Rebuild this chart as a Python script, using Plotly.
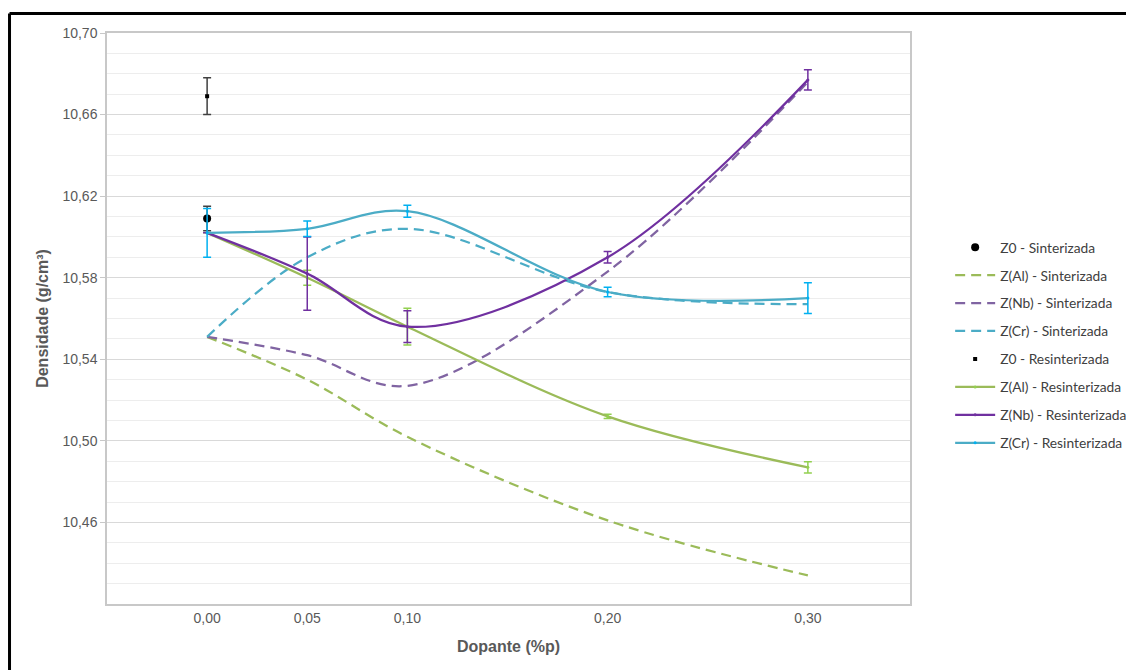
import plotly.graph_objects as go

# ---- data ----
dopante = [0.00, 0.05, 0.10, 0.20, 0.30]
tick_labels = ["0,00", "0,05", "0,10", "0,20", "0,30"]

z0_sint_x = [0.00]
z0_sint_y = [10.609]
z0_sint_err = [0.006]

z0_resint_x = [0.00]
z0_resint_y = [10.669]
z0_resint_err = [0.009]

al_sint = [10.551, 10.530, 10.502, 10.461, 10.434]
nb_sint = [10.551, 10.542, 10.527, 10.583, 10.676]
cr_sint = [10.551, 10.590, 10.604, 10.573, 10.567]

al_resint = [10.602, 10.580, 10.556, 10.512, 10.487]
al_resint_err = [0.0, 0.0037, 0.009, 0.001, 0.0028]
nb_resint = [10.602, 10.582, 10.556, 10.590, 10.677]
nb_resint_err = [0.0, 0.018, 0.0078, 0.0028, 0.005]
cr_resint = [10.602, 10.604, 10.6126, 10.573, 10.570]
cr_resint_err = [0.012, 0.0038, 0.0029, 0.0023, 0.0075]

y_ticks = [10.46, 10.50, 10.54, 10.58, 10.62, 10.66, 10.70]

# ---- styles ----
GREEN = "#9BBB59"
GREEN_ERR = "#92D050"
PURPLE = "#7030A0"
PURPLE_D = "#8064A2"
CYAN = "#4BACC6"
CYAN_ERR = "#00B0F0"
GRAY_TXT = "#595959"

fig = go.Figure()

def err(arr, color):
    return dict(type="data", array=arr, visible=True, color=color,
                thickness=1.5, width=4)

fig.add_trace(go.Scatter(
    x=z0_sint_x, y=z0_sint_y, mode="markers", name="Z0 - Sinterizada",
    marker=dict(color="black", size=8, symbol="circle"),
    error_y=err(z0_sint_err, "#404040"), legendgroup="a"))

dash_style = "10px,6px"
fig.add_trace(go.Scatter(
    x=dopante, y=al_sint, mode="lines", name="Z(Al) - Sinterizada",
    line=dict(color=GREEN, width=2.25, dash=dash_style, shape="spline", smoothing=1.0),
    legendgroup="b"))
fig.add_trace(go.Scatter(
    x=dopante, y=nb_sint, mode="lines", name="Z(Nb) - Sinterizada",
    line=dict(color=PURPLE_D, width=2.25, dash=dash_style, shape="spline", smoothing=1.0),
    legendgroup="c"))
fig.add_trace(go.Scatter(
    x=dopante, y=cr_sint, mode="lines", name="Z(Cr) - Sinterizada",
    line=dict(color=CYAN, width=2.25, dash=dash_style, shape="spline", smoothing=1.0),
    legendgroup="d"))

fig.add_trace(go.Scatter(
    x=z0_resint_x, y=z0_resint_y, mode="markers", name="Z0 - Resinterizada",
    marker=dict(color="black", size=4, symbol="square"),
    error_y=err(z0_resint_err, "#404040"), legendgroup="e"))

fig.add_trace(go.Scatter(
    x=dopante, y=al_resint, mode="lines+markers", name="Z(Al) - Resinterizada",
    line=dict(color=GREEN, width=2.25, shape="spline", smoothing=1.0),
    marker=dict(color=GREEN_ERR, size=3),
    error_y=err(al_resint_err, GREEN_ERR), legendgroup="f"))
fig.add_trace(go.Scatter(
    x=dopante, y=nb_resint, mode="lines+markers", name="Z(Nb) - Resinterizada",
    line=dict(color=PURPLE, width=2.25, shape="spline", smoothing=1.0),
    marker=dict(color=PURPLE, size=3),
    error_y=err(nb_resint_err, PURPLE), legendgroup="g"))
fig.add_trace(go.Scatter(
    x=dopante, y=cr_resint, mode="lines+markers", name="Z(Cr) - Resinterizada",
    line=dict(color=CYAN, width=2.25, shape="spline", smoothing=1.0),
    marker=dict(color=CYAN_ERR, size=3),
    error_y=err(cr_resint_err, CYAN_ERR), legendgroup="h"))

fig.update_layout(
    width=1134, height=670,
    margin=dict(l=99, r=232, t=25, b=74, autoexpand=False),
    paper_bgcolor="white", plot_bgcolor="white",
    separators=",.",
    font=dict(family="Liberation Sans, Arial, sans-serif", color=GRAY_TXT, size=14),
    showlegend=True,
    legend=dict(x=1.05, xanchor="left", y=0.652, yanchor="top",
                font=dict(family="Lato, Open Sans, sans-serif", size=13.8, color="#404040"),
                traceorder="grouped", tracegroupgap=7, itemwidth=40,
                bgcolor="rgba(0,0,0,0)"),
    xaxis=dict(range=[-0.05, 0.351], tickvals=dopante, ticktext=tick_labels,
               showgrid=False, zeroline=False, showline=True, linecolor="#C8C8C8",
               linewidth=1.5, mirror=True, ticks="", automargin=False,
               tickfont=dict(size=14, color=GRAY_TXT),
               title=dict(text="<b>Dopante (%p)</b>", font=dict(size=16, color=GRAY_TXT),
                          standoff=16)),
    yaxis=dict(range=[10.42, 10.70], tickvals=y_ticks, tickformat=".2f",
               showgrid=True, gridcolor="#D9D9D9", gridwidth=1.2, zeroline=False,
               showline=True, linecolor="#C8C8C8", linewidth=1.5, mirror=True,
               ticks="outside", ticklen=5, tickcolor="#C8C8C8", automargin=False,
               tickfont=dict(size=14, color=GRAY_TXT),
               minor=dict(tickmode="linear", tick0=10.42, dtick=0.01, showgrid=True,
                          gridcolor="#EDEDED", gridwidth=1, ticks=""),
               title=dict(text="<b>Densidade (g/cm³)</b>", font=dict(size=16, color=GRAY_TXT),
                          standoff=10)),
    shapes=[
        dict(type="line", xref="paper", yref="paper", x0=-0.1214, x1=1.30,
             y0=1.0342, y1=1.0342, line=dict(color="black", width=3)),
        dict(type="line", xref="paper", yref="paper", x0=-0.1214, x1=-0.1214,
             y0=1.0342, y1=-0.14, line=dict(color="black", width=3)),
    ],
)

fig.write_html("out.html")
